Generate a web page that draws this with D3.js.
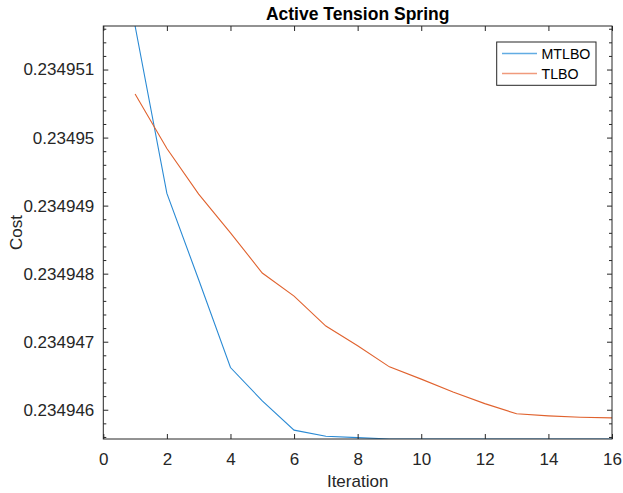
<!DOCTYPE html>
<html>
<head>
<meta charset="utf-8">
<script src="https://cdn.jsdelivr.net/npm/d3@7"></script>
<style>
  html, body { margin: 0; padding: 0; background: #fff; }
  svg { display: block; font-family: "Liberation Sans", Arial, Helvetica, sans-serif; }
</style>
</head>
<body>
<svg id="chart" width="623" height="493"></svg>
<script>
const iterations = [1,2,3,4,5,6,7,8,9,10,11,12,13,14,15,16];
const mtlbo = [0.23495164,0.23494918,0.23494791,0.23494662,0.23494613,0.23494570,0.23494561,0.23494559,0.23494557,0.23494557,0.23494557,0.23494557,0.23494557,0.23494557,0.23494557,0.23494557];
const tlbo  = [0.23495064,0.23494984,0.23494917,0.23494860,0.23494801,0.23494767,0.23494723,0.23494694,0.23494663,0.23494645,0.23494626,0.23494609,0.23494594,0.23494591,0.23494589,0.23494588];
const seriesNames = ["MTLBO", "TLBO"];
const seriesColors = ["#2a8ad4", "#e0622e"];
const legendColors = ["#62ace3", "#f09a7c"];
const xTicks = [0,2,4,6,8,10,12,14,16];
const yTicks = [0.234946,0.234947,0.234948,0.234949,0.23495,0.234951];
const yTickLabels = ["0.234946","0.234947","0.234948","0.234949","0.23495","0.234951"];
const yMinorTicks = d3.range(0.2349454, 0.2349518, 0.0000002);

const svg = d3.select("#chart");
const L = 103.3, R = 612, T = 26, B = 439;
const axisColor = "#262626";

const x = d3.scaleLinear().domain([0, 16]).range([L, R]);
const yExt = d3.extent(mtlbo.concat(tlbo));
const y = d3.scaleLinear().domain(yExt).range([B, T]);

svg.append("rect").attr("x", L).attr("y", T).attr("width", R - L).attr("height", B - T).attr("fill", "#fff");

svg.append("defs").append("clipPath").attr("id", "clip")
  .append("rect").attr("x", L).attr("y", T).attr("width", R - L).attr("height", B - T);

// lines
const line = d3.line().x((d, i) => x(iterations[i])).y(d => y(d));
const plot = svg.append("g").attr("clip-path", "url(#clip)");
[mtlbo, tlbo].forEach((s, k) => {
  plot.append("path").datum(s).attr("d", line)
    .attr("fill", "none").attr("stroke", seriesColors[k]).attr("stroke-width", 1.1);
});

// axes
const fmtY = v => yTickLabels[yTicks.indexOf(v)];
const minorInRange = yMinorTicks.filter(v => v >= yExt[0] && v <= yExt[1] && !yTicks.some(t => Math.abs(t - v) < 1e-10));

function styleAxis(g) {
  g.select(".domain").remove();
  g.selectAll(".tick line").attr("stroke", axisColor).attr("stroke-width", 1);
  g.selectAll(".tick text").attr("fill", axisColor).attr("font-size", 17)
    .attr("font-family", "'Liberation Sans', Arial, sans-serif");
}

// bottom
svg.append("g").attr("transform", `translate(0,${B})`)
  .call(d3.axisBottom(x).tickValues(xTicks).tickSize(-5).tickPadding(14).tickFormat(d3.format("d")))
  .call(styleAxis);
// top
svg.append("g").attr("transform", `translate(0,${T})`)
  .call(d3.axisTop(x).tickValues(xTicks).tickSize(-5).tickFormat(""))
  .call(styleAxis);
// left
svg.append("g").attr("transform", `translate(${L},0)`)
  .call(d3.axisLeft(y).tickValues(yTicks).tickSize(-5).tickPadding(9).tickFormat(fmtY))
  .call(styleAxis);
svg.append("g").attr("transform", `translate(${L},0)`)
  .call(d3.axisLeft(y).tickValues(minorInRange).tickSize(-3).tickFormat(""))
  .call(styleAxis);
// right
svg.append("g").attr("transform", `translate(${R},0)`)
  .call(d3.axisRight(y).tickValues(yTicks).tickSize(-5).tickFormat(""))
  .call(styleAxis);
svg.append("g").attr("transform", `translate(${R},0)`)
  .call(d3.axisRight(y).tickValues(minorInRange).tickSize(-3).tickFormat(""))
  .call(styleAxis);

// box
svg.append("rect").attr("x", L).attr("y", T).attr("width", R - L).attr("height", B - T)
  .attr("fill", "none").attr("stroke", axisColor).attr("stroke-width", 1);

// title & labels
svg.append("text").attr("x", (L + R) / 2).attr("y", 20).attr("text-anchor", "middle")
  .attr("font-size", 17.5).attr("font-weight", "bold").attr("fill", "#000").text("Active Tension Spring");
svg.append("text").attr("x", (L + R) / 2).attr("y", 487).attr("text-anchor", "middle")
  .attr("font-size", 17).attr("fill", axisColor).text("Iteration");
svg.append("text").attr("transform", `translate(21.5,${(T + B) / 2}) rotate(-90)`).attr("text-anchor", "middle")
  .attr("font-size", 17).attr("fill", axisColor).text("Cost");

// legend
const lg = svg.append("g");
lg.append("rect").attr("x", 496.7).attr("y", 42).attr("width", 99.3).attr("height", 43.3)
  .attr("fill", "#fff").attr("stroke", axisColor).attr("stroke-width", 1);
seriesNames.forEach((n, k) => {
  const yy = 53.5 + k * 20;
  lg.append("line").attr("x1", 502).attr("x2", 537).attr("y1", yy).attr("y2", yy)
    .attr("stroke", legendColors[k]).attr("stroke-width", 1.5);
  lg.append("text").attr("x", 541.5).attr("y", yy + 5).attr("font-size", 14.2)
    .attr("fill", "#000").text(n);
});
</script>
</body>
</html>
